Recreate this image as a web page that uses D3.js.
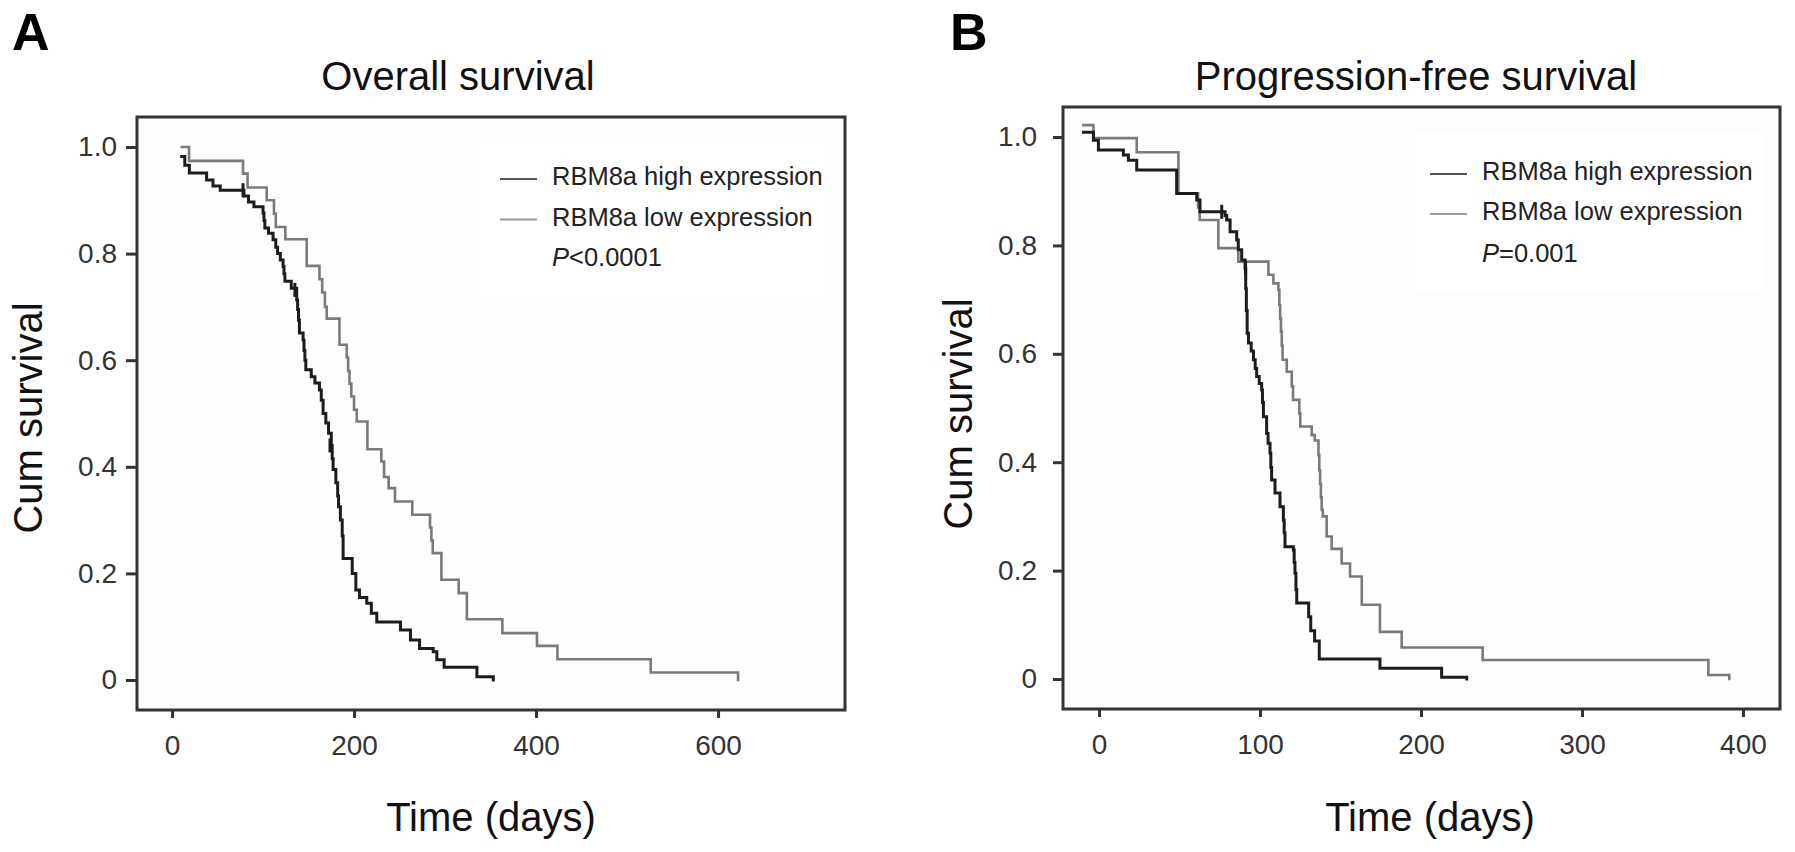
<!DOCTYPE html>
<html>
<head>
<meta charset="utf-8">
<script src="https://cdn.jsdelivr.net/npm/d3@7"></script>
<style>
    body { margin:0; background:#fff; }
    svg text { font-family:"Liberation Sans", Arial, sans-serif; }
</style>
</head>
<body>
<div id="chart"></div>
<script>
// survival curves: [time in days, cumulative survival after that time]
const osHighSteps = [
    [10.6,0.982],[14,0.966],[19,0.951],[38,0.938],[45,0.927],[53,0.919],[79,0.908],[84,0.897],
    [90,0.888],[100,0.876],[101,0.862],[102,0.848],[106,0.838],[111,0.826],[114,0.812],[116,0.8],
    [119,0.788],[122,0.776],[123,0.762],[124,0.748],[131,0.735],[137,0.713],[138,0.695],[139,0.675],
    [140,0.651],[144,0.638],[145,0.618],[146,0.6],[147,0.582],[153,0.569],[157,0.557],[162,0.544],
    [164,0.525],[166,0.5],[169,0.482],[172,0.463],[175,0.44],[176,0.415],[177,0.395],[180,0.37],
    [182,0.345],[183,0.325],[185,0.3],[187,0.27],[188,0.228],[198,0.2],[202,0.169],[206,0.155],
    [214,0.144],[219,0.125],[225,0.109],[251,0.094],[262,0.075],[272,0.059],[287,0.053],[291,0.038],
    [299,0.024],[335,0.006],[353,0]
];
const osLowSteps = [
    [10.7,1.0],[18.7,0.974],[78,0.95],[83,0.924],[104,0.9],[112,0.875],[114,0.85],[124.5,0.827],
    [148,0.777],[162,0.752],[165,0.727],[168,0.7],[170,0.678],[184,0.629],[192,0.605],[193.5,0.58],
    [195,0.556],[197,0.532],[200,0.507],[203,0.485],[214.7,0.433],[230,0.41],[233,0.381],[238,0.36],
    [245,0.335],[264,0.31],[283.5,0.286],[285,0.262],[286.5,0.238],[296,0.188],[315,0.163],[324,0.114],
    [363,0.088],[401,0.064],[423.5,0.039],[526,0.014],[622,0]
];
const osHighCensored = [[78,0.919],[135,0.732],[173.6,0.44]];

const pfsHighSteps = [
    [-9.7,1.009],[-3.5,0.994],[-0.4,0.976],[15.1,0.967],[18.2,0.957],[23.4,0.939],[48.2,0.896],
    [60.7,0.884],[62.7,0.862],[78.3,0.855],[79.3,0.847],[81.4,0.825],[85.5,0.81],[86.5,0.792],
    [88.6,0.773],[90.7,0.758],[91.1,0.72],[91.5,0.68],[92,0.638],[92.8,0.62],[94.5,0.605],[95.9,0.589],
    [97,0.573],[97.9,0.558],[99.5,0.545],[101,0.533],[101.5,0.51],[102.1,0.484],[104.1,0.453],
    [105,0.435],[106.2,0.417],[106.7,0.39],[107.2,0.367],[109.3,0.343],[112.4,0.318],[114.5,0.293],
    [115,0.27],[115.5,0.244],[120.7,0.238],[121.2,0.215],[121.7,0.195],[122.3,0.165],[122.8,0.14],
    [130.2,0.115],[131.5,0.089],[133.9,0.07],[136.8,0.037],[174.5,0.02],[212.8,0.003],[228.4,0]
];
const pfsLowSteps = [
    [-9.7,1.022],[-3.5,0.998],[23.4,0.972],[49.3,0.896],[61.5,0.87],[62.5,0.847],[74.1,0.795],
    [86.5,0.77],[105.2,0.746],[108.3,0.73],[111.4,0.718],[112,0.69],[112.5,0.665],[113,0.641],
    [113.5,0.615],[114,0.589],[116.6,0.567],[119.7,0.54],[120.5,0.515],[124.4,0.49],[125,0.466],
    [132.1,0.45],[134,0.44],[136.3,0.413],[136.8,0.385],[137.3,0.36],[137.8,0.335],[138.3,0.312],
    [139,0.3],[141.4,0.263],[144.5,0.24],[150.7,0.213],[155.9,0.189],[163.2,0.137],[174.5,0.087],
    [188,0.058],[238.3,0.035],[378.5,0.0074],[391.5,0]
];
const pfsHighCensored = [[76.2,0.862],[91,0.758]];

const survivalTicks = [0, 0.2, 0.4, 0.6, 0.8, 1.0];
const osTimeTicks = [0, 200, 400, 600];
const pfsTimeTicks = [0, 100, 200, 300, 400];
const legendLabels = ["RBM8a high expression", "RBM8a low expression"];
const groupColors = ["#1c1c1c", "#7a7a7a"];
const legendColors = ["#555", "#9a9a9a"];

const panels = [
    {
        letter:"A", letterX:12, title:"Overall survival", titleX:458,
        frame:{left:137, right:845, top:117, bottom:710},
        xDomain:[-38.5, 739.5], yDomain:[-0.0563, 1.0563],
        xTicks:osTimeTicks, yPad:9, yTick:11,
        yLabelX:42, yLabelY:418, xLabelX:491,
        series:[osHighSteps, osLowSteps], censored:osHighCensored,
        legend:{x0:500, x1:537, textX:552, rows:[185, 225.5, 266], box:[480,143,350,160]},
        pValue:"<0.0001"
    },
    {
        letter:"B", letterX:950, title:"Progression-free survival", titleX:1416,
        frame:{left:1063, right:1780, top:107, bottom:709},
        xDomain:[-22.4, 423], yDomain:[-0.0554, 1.0554],
        xTicks:pfsTimeTicks, yPad:16, yTick:10,
        yLabelX:972, yLabelY:414, xLabelX:1430,
        series:[pfsHighSteps, pfsLowSteps], censored:pfsHighCensored,
        legend:{x0:1430, x1:1467, textX:1482, rows:[180, 220, 262], box:[1410,133,355,160]},
        pValue:"=0.001"
    }
];

const svg = d3.select("#chart").append("svg")
    .attr("width", 1795)
    .attr("height", 852);

const drawPanel = function(p){
    const f = p.frame;
    const x = d3.scaleLinear().domain(p.xDomain).range([f.left, f.right]);
    const y = d3.scaleLinear().domain(p.yDomain).range([f.bottom, f.top]);
    const g = svg.append("g").attr("class","panel" + p.letter);

    g.append("rect")
        .attr("x", f.left).attr("y", f.top)
        .attr("width", f.right - f.left).attr("height", f.bottom - f.top)
        .attr("fill", "#fdfdfd")
    ;
    g.append("rect")
        .attr("x", p.legend.box[0]).attr("y", p.legend.box[1])
        .attr("width", p.legend.box[2]).attr("height", p.legend.box[3])
        .attr("fill", "#fff")
    ;

    // axes
    const yAxis = g.append("g")
        .attr("transform", "translate(" + f.left + ",0)")
        .call(d3.axisLeft(y).tickValues(survivalTicks)
            .tickFormat(d=>d === 0 ? "0" : d3.format(".1f")(d))
            .tickSize(p.yTick).tickPadding(p.yPad));
    const xAxis = g.append("g")
        .attr("transform", "translate(0," + f.bottom + ")")
        .call(d3.axisBottom(x).tickValues(p.xTicks).tickSize(8).tickPadding(17));

    [xAxis, yAxis].forEach(axis=>{
        axis.select(".domain").remove();
        axis.selectAll(".tick line").attr("stroke", "#333").attr("stroke-width", 3);
        axis.selectAll(".tick text")
            .attr("fill", "#333")
            .style("font-size", "28px")
        ;
    });

    g.append("rect")
        .attr("x", f.left).attr("y", f.top)
        .attr("width", f.right - f.left).attr("height", f.bottom - f.top)
        .attr("fill", "none")
        .attr("stroke", "#333")
        .attr("stroke-width", 3)
    ;

    // curves
    const line = d3.line()
        .x(d=>x(d[0]))
        .y(d=>y(d[1]))
        .curve(d3.curveStepAfter);

    g.selectAll(".kmCurve")
        .data(p.series.slice().reverse())
        .join("path")
        .attr("class","kmCurve")
        .attr("d", d=>line(d))
        .attr("fill", "none")
        .attr("stroke", (d,i)=>groupColors[1 - i])
        .attr("stroke-width", (d,i)=>i === 0 ? 2.6 : 3)
        .attr("stroke-linecap", "square")
    ;

    g.selectAll(".censorMark")
        .data(p.censored)
        .join("line")
        .attr("class","censorMark")
        .attr("x1", d=>x(d[0])).attr("x2", d=>x(d[0]))
        .attr("y1", d=>y(d[1]) - 7).attr("y2", d=>y(d[1]) + 7)
        .attr("stroke", groupColors[0])
        .attr("stroke-width", 3)
    ;

    // legend
    g.selectAll(".legendLine")
        .data(legendLabels)
        .join("line")
        .attr("class","legendLine")
        .attr("x1", p.legend.x0).attr("x2", p.legend.x1)
        .attr("y1", (d,i)=>p.legend.rows[i] - 6).attr("y2", (d,i)=>p.legend.rows[i] - 6)
        .attr("stroke", (d,i)=>legendColors[i])
        .attr("stroke-width", 2)
    ;
    g.selectAll(".legendText")
        .data(legendLabels)
        .join("text")
        .attr("class","legendText")
        .attr("x", p.legend.textX)
        .attr("y", (d,i)=>p.legend.rows[i])
        .attr("fill", "#222")
        .style("font-size", "25.5px")
        .text(d=>d)
    ;
    const pText = g.append("text")
        .attr("x", p.legend.textX)
        .attr("y", p.legend.rows[2])
        .attr("fill", "#222")
        .style("font-size", "25.5px")
    ;
    pText.append("tspan").style("font-style", "italic").text("P");
    pText.append("tspan").text(p.pValue);

    // titles and labels
    g.append("text")
        .attr("x", p.letterX).attr("y", 50)
        .attr("fill", "#000")
        .style("font-size", "52px")
        .style("font-weight", "bold")
        .text(p.letter)
    ;
    g.append("text")
        .attr("x", p.titleX).attr("y", 90)
        .attr("text-anchor", "middle")
        .attr("fill", "#111")
        .style("font-size", "40px")
        .text(p.title)
    ;
    g.append("text")
        .attr("transform", "translate(" + p.yLabelX + "," + p.yLabelY + ") rotate(-90)")
        .attr("text-anchor", "middle")
        .attr("fill", "#111")
        .style("font-size", "40px")
        .text("Cum survival")
    ;
    g.append("text")
        .attr("x", p.xLabelX).attr("y", 831)
        .attr("text-anchor", "middle")
        .attr("fill", "#111")
        .style("font-size", "40px")
        .text("Time (days)")
    ;
};

panels.forEach(p=>drawPanel(p));
</script>
</body>
</html>
